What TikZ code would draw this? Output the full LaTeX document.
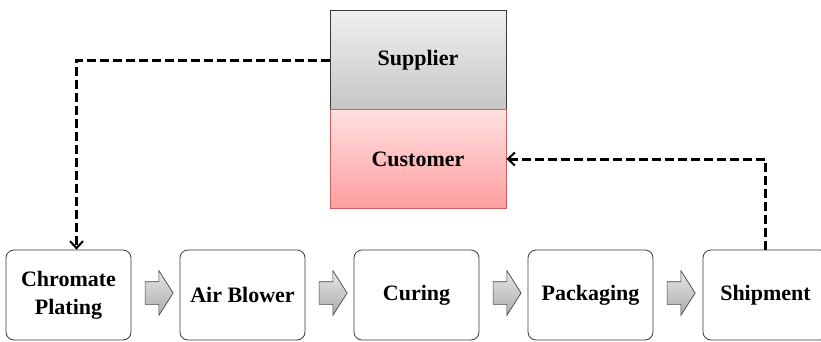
\documentclass[tikz,border=0pt]{standalone}
\usepackage{fontspec}
\setmainfont{Liberation Serif}
\usetikzlibrary{arrows.meta,shapes.arrows}

\definecolor{boxline}{HTML}{3A3A3A}
\definecolor{custline}{HTML}{D06060}

\begin{document}
\begin{tikzpicture}[x=1pt,y=1pt,
    font=\fontsize{22}{28}\selectfont\bfseries]
\useasboundingbox (0,0) rectangle (821,341);
\begin{scope}[every node/.style={draw=boxline,line width=0.8pt,minimum width=176pt,minimum height=99pt,inner sep=0pt}]
    \node[top color=gray!12,bottom color=gray!45] (s) at (418,281) {Supplier};
    \node[draw=custline,top color=red!12,bottom color=red!38] (c) at (418,182) {Customer};
\end{scope}
\begin{scope}[every node/.style={draw=boxline,line width=0.8pt,fill=white,rounded corners=8pt,
              minimum width=125pt,minimum height=90pt,align=center,inner sep=0pt}]
    \node (p1) at (68.5,46) {Chromate\\Plating};
    \node (p2) at (242.5,46) {Air Blower};
    \node (p3) at (416.5,46) {Curing};
    \node (p4) at (590.5,46) {Packaging};
    \node (p5) at (765.5,46) {Shipment};
\end{scope}
\begin{scope}[every node/.style={single arrow,draw=gray!55!black,line width=0.7pt,
              top color=gray!20,bottom color=gray!65,inner ysep=11pt,inner xsep=0pt,
              single arrow head extend=11pt,single arrow tip angle=115,minimum height=28pt}]
    \node (a1) at (155.5,48) {};
    \node (a2) at (329.5,48) {};
    \node (a3) at (503.5,48) {};
    \node (a4) at (677.5,48) {};
\end{scope}
\begin{scope}[every path/.style={draw=black,line width=3pt,dash pattern=on 9pt off 4pt,
              -{Straight Barb[length=7pt,width=13pt,line width=2pt]}}]
    \path (s.west) -| ([xshift=8pt]p1.north);
    \path (p5.north) |- (c.east);
\end{scope}
\end{tikzpicture}
\end{document}
